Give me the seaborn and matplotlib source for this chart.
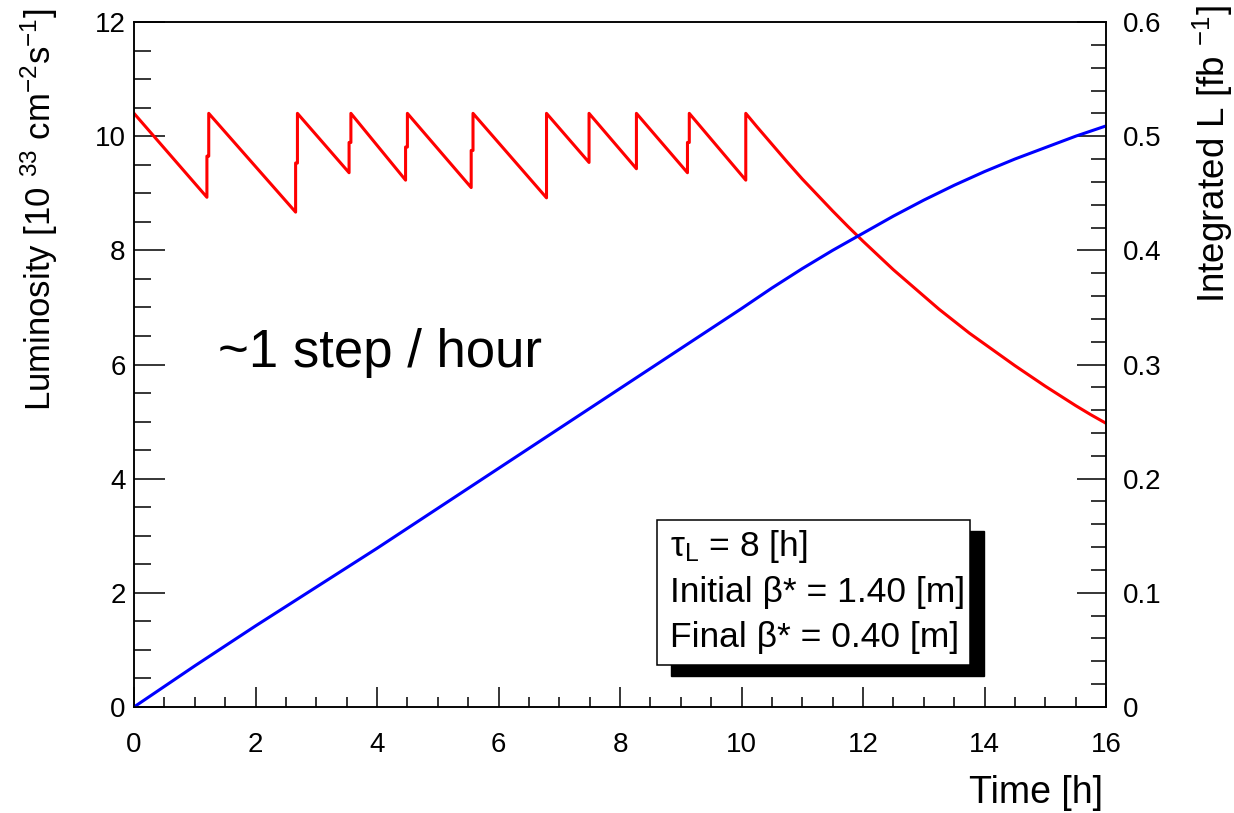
"""
Luminosity levelling with beta* steps, with integrated luminosity
"""

import pandas as pd
import seaborn as sns
import matplotlib.pyplot as plt
from matplotlib.patches import Rectangle
from matplotlib.ticker import MultipleLocator

# instantaneous luminosity [1e33 cm^-2 s^-1]
lumi_time = [0.00,
             1.20, 1.20, 1.23, 1.23,
             2.66, 2.66, 2.69, 2.69,
             3.54, 3.54, 3.57, 3.57,
             4.47, 4.47, 4.50, 4.50,
             5.55, 5.55, 5.58, 5.58,
             6.79, 6.79,
             7.49, 7.49,
             8.27, 8.27,
             9.11, 9.11, 9.14, 9.14,
             10.07, 10.07,
             10.25, 10.50, 10.75, 11.00, 11.25, 11.50, 11.75, 12.00,
             12.25, 12.50, 12.75, 13.00, 13.25, 13.50, 13.75, 14.00,
             14.25, 14.50, 14.75, 15.00, 15.25, 15.50, 15.75, 16.00]
lumi_value = [10.40,
              8.93, 9.65, 9.65, 10.40,
              8.67, 9.53, 9.53, 10.40,
              9.36, 9.89, 9.89, 10.40,
              9.23, 9.81, 9.81, 10.40,
              9.10, 9.75, 9.75, 10.40,
              8.92, 10.40,
              9.54, 10.40,
              9.43, 10.40,
              9.36, 9.89, 9.89, 10.40,
              9.23, 10.40,
              10.17, 9.86, 9.55, 9.25, 8.97, 8.69, 8.42, 8.16,
              7.91, 7.66, 7.43, 7.20, 6.97, 6.76, 6.55, 6.36,
              6.17, 5.98, 5.80, 5.62, 5.45, 5.28, 5.12, 4.97]

# integrated luminosity [fb^-1]
int_time = [0, 1, 2, 3, 4, 5, 6, 7, 8, 9, 10,
            10.5, 11, 11.5, 12, 12.5, 13, 13.5, 14, 14.5, 15, 15.5, 16]
int_value = [0.000, 0.036, 0.071, 0.105, 0.139, 0.174, 0.209, 0.244, 0.279,
             0.314, 0.349,
             0.367, 0.384, 0.400, 0.415, 0.430, 0.444, 0.457, 0.469, 0.480,
             0.490, 0.500, 0.509]

box_lines = [r"τ$_{\mathrm{L}}$ = 8 [h]",
             "Initial β* = 1.40 [m]",
             "Final β* = 0.40 [m]"]


def main():
    sns.set_theme(style="ticks")
    plt.rcParams["font.family"] = ["Liberation Sans", "DejaVu Sans"]
    plt.rcParams.update({"mathtext.fontset": "custom",
                         "mathtext.rm": "Liberation Sans",
                         "mathtext.it": "Liberation Sans:italic",
                         "axes.edgecolor": "black",
                         "axes.linewidth": 1.1,
                         "text.color": "black",
                         "axes.labelcolor": "black",
                         "xtick.color": "black",
                         "ytick.color": "black"})

    lumi = pd.DataFrame({"t": lumi_time, "L": lumi_value})
    integ = pd.DataFrame({"t": int_time, "I": int_value})

    fig = plt.figure(figsize=(12.34, 8.13), dpi=100)
    ax = fig.add_axes([0.1086, 0.1304, 0.7877, 0.8425])
    ax2 = ax.twinx()

    sns.lineplot(data=lumi, x="t", y="L", sort=False, estimator=None,
                 color="#ff0000", lw=2.2, ax=ax)
    sns.lineplot(data=integ, x="t", y="I", sort=False, estimator=None,
                 color="#0000ff", lw=2.2, ax=ax2)

    ax.set_xlim(0, 16)
    ax.set_ylim(0, 12)
    ax2.set_ylim(0, 0.6)

    ax.xaxis.set_major_locator(MultipleLocator(2))
    ax.xaxis.set_minor_locator(MultipleLocator(0.5))
    ax.yaxis.set_major_locator(MultipleLocator(2))
    ax.yaxis.set_minor_locator(MultipleLocator(0.5))
    ax2.yaxis.set_major_locator(MultipleLocator(0.1))
    ax2.yaxis.set_minor_locator(MultipleLocator(0.02))
    ax2.yaxis.set_major_formatter(lambda v, p: "0" if v == 0 else f"{v:.1f}")

    ax.tick_params(axis="x", which="major", direction="in", length=14.4,
                   width=1.1, labelsize=20, pad=18)
    ax.tick_params(axis="x", which="minor", direction="in", length=7, width=1.1)
    ax.tick_params(axis="y", which="major", direction="in", length=22,
                   width=1.1, labelsize=20, pad=6, right=False)
    ax.tick_params(axis="y", which="minor", direction="in", length=12,
                   width=1.1, right=False)
    ax2.tick_params(axis="y", which="major", direction="in", length=21,
                    width=1.1, labelsize=20, pad=12)
    ax2.tick_params(axis="y", which="minor", direction="in", length=11, width=1.1)

    ax.set_xlabel("Time [h]", fontsize=27, loc="right")
    ax.xaxis.set_label_coords(0.997, -0.126)
    ax.xaxis.label.set_va("center")
    ax.set_ylabel(r"Luminosity [10 $^{33}$ cm$^{-2}$s$^{-1}$]", fontsize=25, loc="top")
    ax.yaxis.set_label_coords(-0.097, 1.02)
    ax.yaxis.label.set_va("center")
    ax2.set_ylabel(r"Integrated L [fb $^{-1}$]", fontsize=26.5, loc="top")
    ax2.yaxis.set_label_coords(1.110, 1.025)
    ax2.yaxis.label.set_va("center")

    ax.text(1.38, 6.2, "~1 step / hour", fontsize=38, va="center", ha="left")

    # parameter box with drop shadow
    ax2.add_patch(Rectangle((0.552, 0.0453), 0.3225, 0.212, transform=ax2.transAxes,
                            facecolor="black", edgecolor="black", zorder=5))
    ax2.add_patch(Rectangle((0.538, 0.0613), 0.322, 0.2117, transform=ax2.transAxes,
                            facecolor="white", edgecolor="black", lw=1.1, zorder=6))
    for i, line in enumerate(box_lines):
        ax2.text(0.551, 0.234 - i * 0.0665, line, transform=ax2.transAxes,
                 fontsize=25.5, va="center", ha="left", zorder=7)

    fig.savefig("out.png", dpi=100)


if __name__ == "__main__":
    main()
